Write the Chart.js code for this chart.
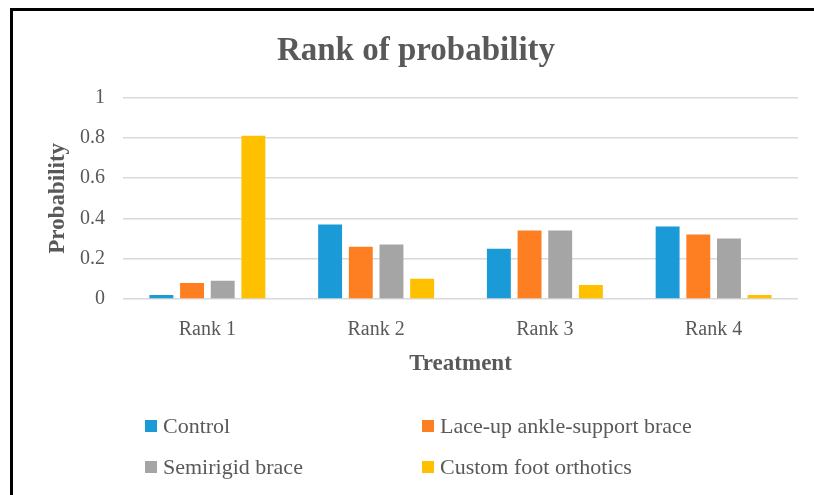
<!DOCTYPE html>
<html>
<head>
<meta charset="utf-8">
<script src="https://cdn.jsdelivr.net/npm/chart.js@4.4.0/dist/chart.umd.min.js"></script>
<style>
  html, body { margin: 0; padding: 0; background: #fff; overflow: hidden; }
  #wrap { position: relative; width: 814px; height: 495px; }
  #frame {
    position: absolute; left: 10px; top: 8px; width: 900px; height: 600px;
    border: 3px solid #000; box-sizing: border-box; pointer-events: none;
  }
  #legend { position: absolute; left: 0; top: 0; width: 814px; height: 495px; pointer-events: none; }
  .item {
    position: absolute; display: flex; align-items: center;
    font-family: "Liberation Serif", serif; font-size: 22px; color: #595959; white-space: nowrap;
  }
  .swatch { width: 12px; height: 12px; margin-right: 6px; }
</style>
</head>
<body>
<div id="wrap">
  <canvas id="chart" width="814" height="495"></canvas>
  <div id="frame"></div>
  <div id="legend"></div>
</div>
<script>
// data
const categories = ['Rank 1', 'Rank 2', 'Rank 3', 'Rank 4'];
const seriesNames = ['Control', 'Lace-up ankle-support brace', 'Semirigid brace', 'Custom foot orthotics'];
const control = [0.02, 0.37, 0.25, 0.36];
const laceUp = [0.08, 0.26, 0.34, 0.32];
const semirigid = [0.09, 0.27, 0.34, 0.30];
const orthotics = [0.81, 0.10, 0.07, 0.02];
const yTickLabels = ['0', '0.2', '0.4', '0.6', '0.8', '1'];

const colors = ['#1A9AD6', '#FE7F22', '#A5A5A5', '#FFC000'];
const textColor = '#595959';
const serif = '"Liberation Serif", serif';

const seriesValues = [control, laceUp, semirigid, orthotics];

const datasets = seriesValues.map((vals, i) => ({
  label: seriesNames[i],
  data: vals,
  backgroundColor: colors[i],
  borderWidth: 0,
  categoryPercentage: 0.727,
  barPercentage: 0.78
}));

const chart = new Chart(document.getElementById('chart'), {
  type: 'bar',
  data: { labels: categories, datasets },
  options: {
    responsive: false,
    animation: false,
    layout: { padding: { left: 34, right: 16, top: 0, bottom: 114 } },
    plugins: {
      legend: { display: false },
      tooltip: { enabled: false },
      title: {
        display: true,
        text: 'Rank of probability',
        color: textColor,
        font: { family: serif, size: 33, weight: 'bold' },
        padding: { top: 32, bottom: 26 }
      }
    },
    scales: {
      x: {
        grid: { display: false, drawTicks: false },
        border: { display: false },
        ticks: { color: textColor, font: { family: serif, size: 20 }, padding: 19 },
        title: {
          display: true, text: 'Treatment', color: textColor,
          font: { family: serif, size: 23, weight: 'bold' },
          padding: { top: 0, bottom: 3 }
        },
        afterFit: scale => { scale.height = 82; }
      },
      y: {
        min: 0, max: 1,
        ticks: {
          stepSize: 0.2,
          color: textColor,
          font: { family: serif, size: 20 },
          padding: 18,
          callback: (val, idx) => yTickLabels[idx]
        },
        grid: { color: '#D9D9D9', lineWidth: 1.5, drawTicks: false },
        border: { display: false },
        title: {
          display: true, text: 'Probability', color: textColor,
          font: { family: serif, size: 23, weight: 'bold' },
          padding: { top: 10, bottom: 0 }
        },
        afterFit: scale => { scale.width = 89; }
      }
    }
  }
});

// two-column legend like the original
const legendEl = document.getElementById('legend');
const legendPos = [[145, 426], [422, 426], [145, 467], [422, 467]];
seriesNames.forEach((name, i) => {
  const item = document.createElement('div');
  item.className = 'item';
  item.style.left = legendPos[i][0] + 'px';
  item.style.top = (legendPos[i][1] - 13) + 'px';
  item.style.height = '26px';
  item.innerHTML = `<span class="swatch" style="background:${colors[i]}"></span><span>${name}</span>`;
  legendEl.appendChild(item);
});
</script>
</body>
</html>
